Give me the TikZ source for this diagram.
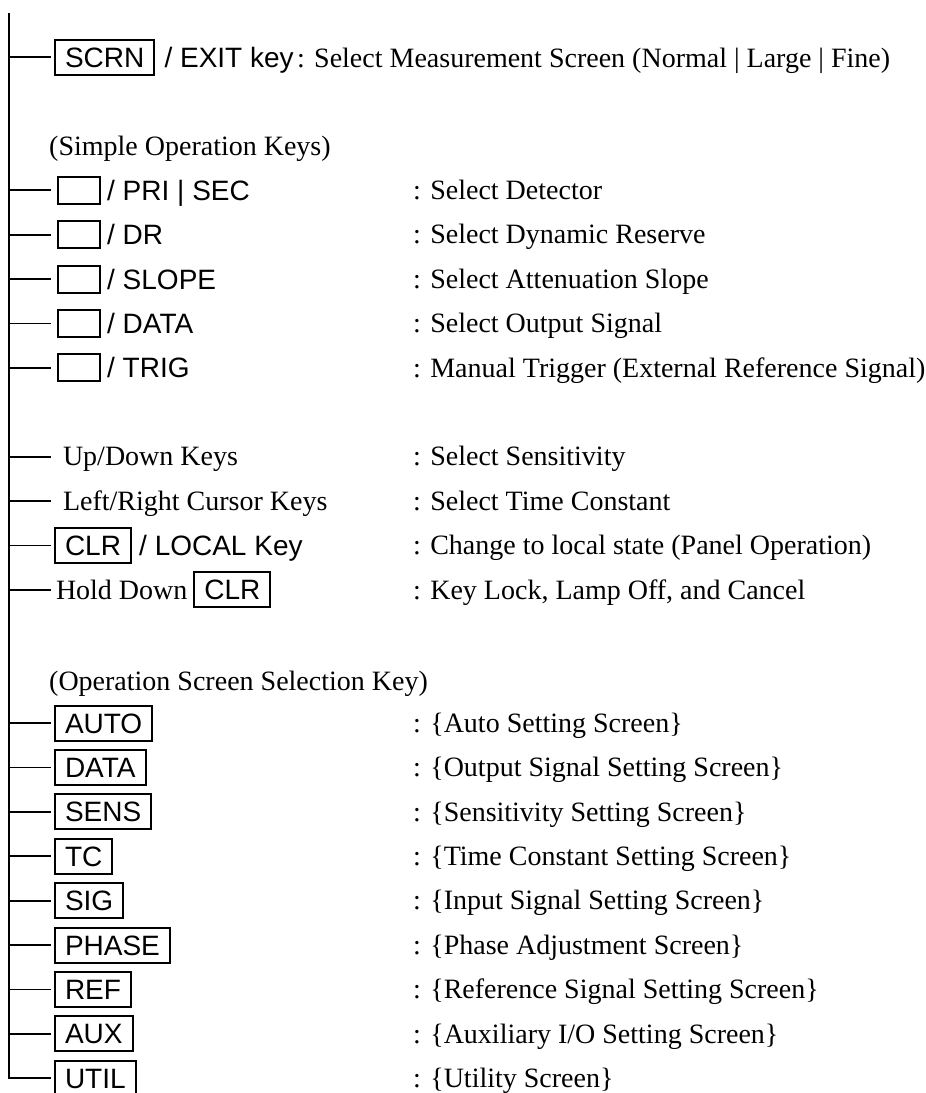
\documentclass[tikz,border=0pt]{standalone}
\usepackage{fontspec}
\setmainfont{Liberation Serif}
\newfontfamily\keyfont{Liberation Sans}
\usetikzlibrary{positioning}
\tikzset{
  key/.style={draw,line width=2pt,font=\keyfont\fontsize{28}{32}\selectfont,
              inner xsep=10pt,inner ysep=7.5pt,text height=20pt,text depth=0pt,
              outer sep=4pt,anchor=west},
  blank/.style={draw,line width=2pt,minimum width=42pt,minimum height=27pt,
                inner sep=0pt,outer sep=7pt,anchor=west},
  ktxt/.style={font=\keyfont\fontsize{28}{32}\selectfont,inner sep=0pt,
               text height=20pt,text depth=0pt,anchor=west},
  dtxt/.style={inner sep=0pt,text height=18.5pt,text depth=0pt,anchor=west},
  br/.style={line width=1.8pt},
}

\begin{document}
\begin{tikzpicture}[x=1pt,y=-1pt,font=\fontsize{28}{32}\selectfont]
  \useasboundingbox (0,0) rectangle (926,1093);
  \coordinate (top) at (9,13);
  % measurement screen key
  \node[key] (scrn) at (51,57) {SCRN};
  \node[ktxt,right=6pt of scrn] (exit) {/ EXIT key};
  \node[dtxt,anchor=base west] (dscrn) at ([xshift=3pt]exit.base east)
    {: Select Measurement Screen (Normal | Large | Fine)};
  % simple operation keys
  \node[dtxt] (simple) at (49,146) {(Simple Operation Keys)};
  \foreach \k/\n/\t/\d in {3/pri/PRI | SEC/Select Detector,
      4/dr/DR/Select Dynamic Reserve, 5/slope/SLOPE/Select Attenuation Slope,
      6/outp/DATA/Select Output Signal,
      7/trig/TRIG/Manual Trigger (External Reference Signal)}{
    \node[blank] (\n) at (51,{57+44.4*\k}) {};
    \node[ktxt,right=0pt of \n] (t\n) {/ \t};
    \node[dtxt] (d\n) at (413,{57+44.4*\k}) {: \d};
  }
  \node[dtxt,outer xsep=12pt] (updn) at (51,{57+44.4*9}) {Up/Down Keys};
  \node[dtxt] (dupdn) at (413,{57+44.4*9}) {: Select Sensitivity};
  \node[dtxt,outer xsep=12pt] (lr) at (51,{57+44.4*10}) {Left/Right Cursor Keys};
  \node[dtxt] (dlr) at (413,{57+44.4*10}) {: Select Time Constant};
  \node[key] (clr) at (51,{57+44.4*11}) {CLR};
  \node[ktxt,right=4pt of clr] (local) {/ LOCAL Key};
  \node[dtxt] (dclr) at (413,{57+44.4*11}) {: Change to local state (Panel Operation)};
  \node[dtxt,outer xsep=5pt] (hold) at (51,{57+44.4*12}) {Hold Down};
  \node[key,right=-2pt of hold] (hclr) {CLR};
  \node[dtxt] (dhold) at (413,{57+44.4*12}) {: Key Lock, Lamp Off, and Cancel};
  % operation screen selection keys
  \node[dtxt] (opsel) at (49,681) {(Operation Screen Selection Key)};
  \foreach \k/\n/\t/\d in {15/auto/AUTO/Auto Setting Screen,
      16/sdata/DATA/Output Signal Setting Screen,
      17/sens/SENS/Sensitivity Setting Screen,
      18/tc/TC/Time Constant Setting Screen,
      19/sig/SIG/Input Signal Setting Screen,
      20/phase/PHASE/Phase Adjustment Screen,
      21/ref/REF/Reference Signal Setting Screen,
      22/aux/AUX/{Auxiliary I/O Setting Screen},
      23/util/UTIL/Utility Screen}{
    \node[key] (\n) at (51,{57+44.4*\k}) {\t};
    \node[dtxt] (d\n) at (413,{57+44.4*\k}) {: \{\d\}};
  }
  % tree
  \foreach \n in {scrn,pri,dr,slope,outp,trig,updn,lr,clr,hold,
                  auto,sdata,sens,tc,sig,phase,ref,aux}
    \draw[br] (top |- \n.west) -- (\n.west);
  \draw[br] (top) |- (util.west);
\end{tikzpicture}
\end{document}
